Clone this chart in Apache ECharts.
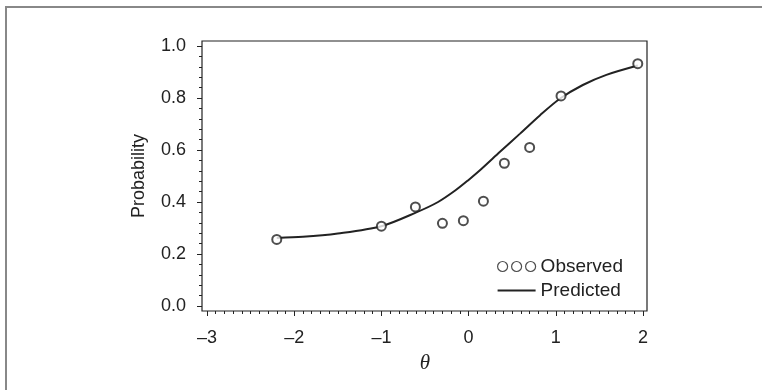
<!DOCTYPE html>
<html>

<head>
    <meta charset="utf-8" />
    <title>ECharts</title>
    <script src="https://cdn.jsdelivr.net/npm/echarts@6.0.0/dist/echarts.min.js"></script>
</head>

<body style="margin:0">
    <style>
        #main {
            width: 762px;
            height: 390px;
        }
    </style>
    <div id="main"></div>
    <script type="text/javascript">
        // observed points
        var obsTheta = [-2.2, -1.0, -0.61, -0.3, -0.06, 0.17, 0.41, 0.7, 1.06, 1.94];
        var obsProb = [0.256, 0.307, 0.381, 0.318, 0.328, 0.403, 0.549, 0.61, 0.808, 0.932];
        // predicted curve
        var predTheta = [-2.2, -1.9, -1.5, -1.0, -0.6, -0.35, -0.15, 0.0, 0.13, 0.36, 0.59, 0.82, 1.05, 1.31, 1.58, 1.94];
        var predProb = [0.262, 0.266, 0.279, 0.307, 0.36, 0.40, 0.445, 0.485, 0.522, 0.593, 0.663, 0.734, 0.798, 0.850, 0.889, 0.925];

        var ink = '#222';
        var font = 'Liberation Sans, Arial, sans-serif';

        var myChart = echarts.init(document.getElementById('main'));
        var option = {
            animation: false,
            graphic: [{
                type: 'rect',
                shape: { x: 6, y: 7, width: 800, height: 500 },
                style: { fill: null, stroke: '#888', lineWidth: 2 },
                silent: true
            }],
            legend: {
                orient: 'vertical',
                left: 497,
                top: 257,
                padding: 0,
                itemWidth: 38,
                itemHeight: 10,
                itemGap: 5,
                textStyle: { color: ink, fontSize: 19, fontFamily: font, lineHeight: 19 },
                data: [{
                    name: 'Observed',
                    icon: 'path://M0,5a5,5 0 1,0 10,0a5,5 0 1,0 -10,0M14,5a5,5 0 1,0 10,0a5,5 0 1,0 -10,0M28,5a5,5 0 1,0 10,0a5,5 0 1,0 -10,0',
                    itemStyle: { color: '#fff', borderColor: ink, borderWidth: 1.2 }
                }, {
                    name: 'Predicted',
                    icon: 'path://M0,0H38V2H0Z',
                    itemStyle: { color: ink, borderWidth: 0 }
                }]
            },
            grid: [
                { left: 207, right: 119, top: 46, bottom: 84 },
                { left: 202, right: 115, top: 41, bottom: 79, show: true, borderColor: ink, borderWidth: 1.2, z: 0 }
            ],
            xAxis: [{
                type: 'value',
                gridIndex: 0,
                min: -3,
                max: 2,
                interval: 1,
                offset: 5,
                axisLine: { show: false, onZero: false },
                axisTick: { inside: false, length: 5, lineStyle: { color: ink } },
                minorTick: { show: true, splitNumber: 10, length: 3, lineStyle: { color: ink } },
                splitLine: { show: false },
                axisLabel: {
                    color: ink, fontSize: 18, fontFamily: font, margin: 18,
                    formatter: function (v) { return v < 0 ? '\u2013' + (-v) : String(v); }
                },
                name: '\u03b8',
                nameLocation: 'middle',
                nameGap: 42,
                nameTextStyle: { color: ink, fontSize: 21, fontStyle: 'italic', fontFamily: 'Liberation Serif, serif' }
            }, {
                type: 'value', gridIndex: 1, show: false, min: 0, max: 1
            }],
            yAxis: [{
                type: 'value',
                gridIndex: 0,
                min: 0,
                max: 1,
                interval: 0.2,
                offset: 5,
                axisLine: { show: false, onZero: false },
                axisTick: { inside: false, length: 5, lineStyle: { color: ink } },
                minorTick: { show: true, splitNumber: 5, length: 3, lineStyle: { color: ink } },
                splitLine: { show: false },
                axisLabel: {
                    color: ink, fontSize: 18, fontFamily: font, margin: 16,
                    formatter: function (v) { return v.toFixed(1); }
                },
                name: 'Probability',
                nameLocation: 'middle',
                nameGap: 54,
                nameTextStyle: { color: ink, fontSize: 18, fontFamily: font }
            }, {
                type: 'value', gridIndex: 1, show: false, min: 0, max: 1
            }],
            series: [{
                name: 'Predicted',
                type: 'line',
                xAxisIndex: 0,
                yAxisIndex: 0,
                smooth: 0.3,
                showSymbol: false,
                symbol: 'none',
                color: ink,
                lineStyle: { color: ink, width: 2 },
                z: 2,
                data: predTheta.map(function (t, i) { return [t, predProb[i]]; })
            }, {
                name: 'Observed',
                type: 'scatter',
                xAxisIndex: 0,
                yAxisIndex: 0,
                symbol: 'emptyCircle',
                symbolSize: 9,
                itemStyle: { color: ink, borderWidth: 1.2 },
                z: 3,
                data: obsTheta.map(function (t, i) { return [t, obsProb[i]]; })
            }]
        };
        myChart.setOption(option);
    </script>
</body>
</html>
